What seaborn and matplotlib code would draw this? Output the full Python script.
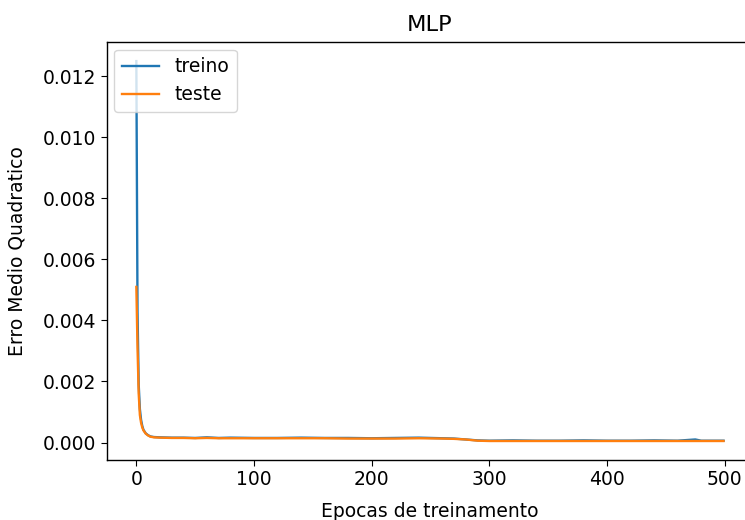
import matplotlib
matplotlib.use("Agg")
import matplotlib.pyplot as plt
import pandas as pd
import seaborn as sns

# values (MSE per training epoch)
epochs = [0, 1, 2, 3, 4, 5, 6, 8, 10, 12, 15, 20, 30, 40, 50, 60, 70, 80,
          100, 120, 140, 160, 180, 200, 220, 240, 260, 270, 280, 290, 300,
          320, 340, 360, 380, 400, 420, 440, 460, 475, 480, 499]
treino = [0.0125, 0.0043, 0.0019, 0.0011, 0.00075, 0.00055, 0.00042, 0.0003,
          0.00024, 0.0002, 0.00018, 0.00017, 0.00016, 0.00016, 0.00015, 0.00017,
          0.00015, 0.00016, 0.00015, 0.00015, 0.00016, 0.00015, 0.00015, 0.00014,
          0.00015, 0.00016, 0.00014, 0.00013, 0.0001, 0.00007, 0.00006, 0.00007,
          0.00006, 0.00006, 0.00007, 0.00006, 0.00006, 0.00007, 0.00006, 0.0001,
          0.00006, 0.00006]
teste = [0.0051, 0.0031, 0.0016, 0.0009, 0.00065, 0.0005, 0.0004, 0.00029,
         0.00023, 0.00019, 0.00017, 0.00016, 0.00015, 0.00015, 0.00014, 0.00015,
         0.00014, 0.00014, 0.00014, 0.00014, 0.00014, 0.00014, 0.00013, 0.00013,
         0.00013, 0.00014, 0.00013, 0.00012, 0.0001, 0.00006, 0.00005, 0.00005,
         0.00005, 0.00005, 0.00005, 0.00005, 0.00005, 0.00005, 0.00005, 0.00005,
         0.00005, 0.00005]

plt.rcParams['font.size'] = 13.5
plt.rcParams['axes.linewidth'] = 1.0
plt.rcParams['xtick.major.size'] = 4
plt.rcParams['ytick.major.size'] = 4

fig = plt.figure(figsize=(7.45, 5.2), dpi=100)
# right edge of the axes sits just past the figure, as in the cropped original
ax = fig.add_axes([0.1436, 0.1154, 0.867, 0.8036])

sns.lineplot(x=epochs, y=treino, label='treino', color='#1f77b4', lw=1.7, ax=ax)
sns.lineplot(x=epochs, y=teste, label='teste', color='#ff7f0e', lw=1.7, ax=ax)

ax.spines['right'].set_visible(False)
ax.set_title('MLP', pad=8)
ax.set_xlabel('Epocas de treinamento', labelpad=9)
ax.set_ylabel('Erro Medio Quadratico', labelpad=12)
ax.set_xticks([0, 100, 200, 300, 400, 500])
ax.set_yticks([0.0, 0.002, 0.004, 0.006, 0.008, 0.010, 0.012])
ax.yaxis.set_major_formatter(matplotlib.ticker.FormatStrFormatter('%.3f'))
ax.legend(loc='upper left', borderaxespad=0.4)

fig.savefig('out.png', dpi=100)
